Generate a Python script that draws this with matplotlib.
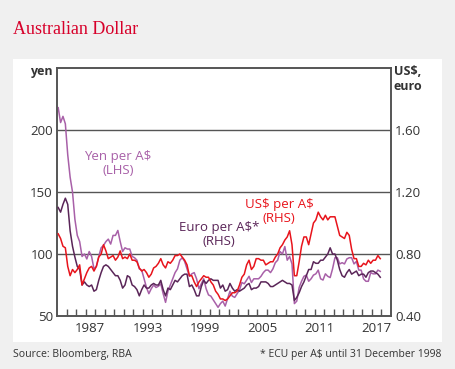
import numpy as np
import matplotlib
matplotlib.use("Agg")
import matplotlib.pyplot as plt
from matplotlib.patches import Rectangle

# ---- data (quarterly, starting Q1 1984) ----
start_year = 1984.0
usd_per_aud = [
    0.93, 0.90, 0.85, 0.84,  # 1984
    0.72, 0.66, 0.70, 0.68,  # 1985
    0.70, 0.73, 0.60, 0.64,  # 1986
    0.68, 0.71, 0.72, 0.69,  # 1987
    0.72, 0.78, 0.80, 0.86,  # 1988
    0.82, 0.77, 0.78, 0.79,  # 1989
    0.76, 0.78, 0.82, 0.77,  # 1990
    0.78, 0.77, 0.80, 0.76,  # 1991
    0.76, 0.75, 0.71, 0.69,  # 1992
    0.70, 0.68, 0.65, 0.67,  # 1993
    0.71, 0.72, 0.74, 0.77,  # 1994
    0.73, 0.71, 0.75, 0.74,  # 1995
    0.76, 0.79, 0.79, 0.80,  # 1996
    0.78, 0.76, 0.73, 0.66,  # 1997
    0.66, 0.62, 0.59, 0.62,  # 1998
    0.64, 0.66, 0.65, 0.65,  # 1999
    0.62, 0.60, 0.56, 0.54,  # 2000
    0.51, 0.51, 0.50, 0.51,  # 2001
    0.53, 0.55, 0.55, 0.56,  # 2002
    0.60, 0.65, 0.67, 0.73,  # 2003
    0.76, 0.70, 0.72, 0.77,  # 2004
    0.77, 0.76, 0.76, 0.73,  # 2005
    0.74, 0.75, 0.75, 0.78,  # 2006
    0.80, 0.84, 0.86, 0.89,  # 2007
    0.91, 0.95, 0.86, 0.66,  # 2008
    0.66, 0.75, 0.85, 0.91,  # 2009
    0.91, 0.86, 0.93, 1.00,  # 2010
    1.02, 1.07, 1.04, 1.02,  # 2011
    1.05, 1.02, 1.04, 1.04,  # 2012
    1.04, 0.98, 0.92, 0.91,  # 2013
    0.90, 0.94, 0.92, 0.83,  # 2014
    0.77, 0.77, 0.72, 0.72,  # 2015
    0.74, 0.73, 0.76, 0.74,  # 2016
    0.76, 0.76, 0.79, 0.77,  # 2017
]
euro_per_aud = [
    1.10, 1.07, 1.12, 1.16,  # 1984
    1.12, 0.95, 0.85, 0.78,  # 1985
    0.72, 0.70, 0.60, 0.62,  # 1986
    0.60, 0.59, 0.60, 0.56,  # 1987
    0.57, 0.63, 0.68, 0.72,  # 1988
    0.73, 0.72, 0.70, 0.68,  # 1989
    0.66, 0.66, 0.63, 0.58,  # 1990
    0.60, 0.66, 0.65, 0.60,  # 1991
    0.59, 0.57, 0.53, 0.57,  # 1992
    0.60, 0.58, 0.58, 0.60,  # 1993
    0.61, 0.60, 0.60, 0.63,  # 1994
    0.57, 0.53, 0.58, 0.57,  # 1995
    0.60, 0.63, 0.62, 0.64,  # 1996
    0.66, 0.67, 0.67, 0.59,  # 1997
    0.60, 0.57, 0.53, 0.53,  # 1998
    0.59, 0.63, 0.61, 0.63,  # 1999
    0.64, 0.63, 0.63, 0.63,  # 2000
    0.58, 0.60, 0.56, 0.57,  # 2001
    0.61, 0.58, 0.56, 0.57,  # 2002
    0.56, 0.57, 0.58, 0.60,  # 2003
    0.61, 0.57, 0.58, 0.58,  # 2004
    0.59, 0.62, 0.62, 0.62,  # 2005
    0.61, 0.59, 0.59, 0.60,  # 2006
    0.61, 0.62, 0.63, 0.62,  # 2007
    0.61, 0.61, 0.60, 0.50,  # 2008
    0.52, 0.55, 0.59, 0.62,  # 2009
    0.66, 0.70, 0.70, 0.75,  # 2010
    0.74, 0.74, 0.76, 0.76,  # 2011
    0.78, 0.80, 0.84, 0.80,  # 2012
    0.80, 0.76, 0.70, 0.66,  # 2013
    0.65, 0.68, 0.70, 0.67,  # 2014
    0.68, 0.69, 0.66, 0.67,  # 2015
    0.67, 0.65, 0.68, 0.69,  # 2016
    0.69, 0.68, 0.67, 0.65,  # 2017
]
yen_per_aud = [
    218, 206, 211, 205,  # 1984
    180, 162, 150, 128,  # 1985
    115, 110, 98, 100,   # 1986
    96, 102, 98, 88,     # 1987
    90, 98, 105, 107,    # 1988
    110, 112, 108, 115,  # 1989
    115, 119, 110, 102,  # 1990
    105, 104, 104, 98,   # 1991
    97, 95, 88, 87,      # 1992
    80, 73, 68, 72,      # 1993
    75, 73, 74, 76,      # 1994
    68, 61, 70, 75,      # 1995
    80, 85, 88, 95,      # 1996
    97, 94, 88, 82,      # 1997
    84, 85, 80, 72,      # 1998
    76, 80, 72, 67,      # 1999
    66, 63, 60, 57,      # 2000
    60, 62, 58, 64,      # 2001
    70, 66, 65, 68,      # 2002
    71, 77, 76, 79,      # 2003
    82, 77, 80, 80,      # 2004
    80, 82, 85, 87,      # 2005
    87, 85, 88, 93,      # 2006
    95, 102, 100, 106,   # 2007
    95, 98, 92, 60,      # 2008
    62, 73, 78, 82,      # 2009
    83, 78, 80, 83,      # 2010
    84, 87, 80, 79,      # 2011
    84, 82, 81, 88,      # 2012
    97, 97, 92, 93,      # 2013
    92, 96, 97, 97,      # 2014
    92, 94, 87, 87,      # 2015
    80, 78, 78, 85,      # 2016
    84, 84, 87, 86,      # 2017
]
left_ticks = [50, 100, 150, 200]
right_tick_labels = ["0.40", "0.80", "1.20", "1.60"]
year_labels = [1987, 1993, 1999, 2005, 2011, 2017]

t = start_year + np.arange(len(usd_per_aud)) * 0.25 + 0.125

# ---- styling ----
font = "Open Sans"
txt = "#333333"
frame = "#555555"
c_red = "#e8141c"
c_yen = "#a860a8"
c_eur = "#5a2558"

fig = plt.figure(figsize=(4.56, 3.69), dpi=100, facecolor="#f0f0f0")
W, H = 456, 369
fig.patches.append(Rectangle((13 / W, (H - 342) / H), (442 - 13) / W, (342 - 59) / H,
                             transform=fig.transFigure, facecolor="white",
                             edgecolor="none", zorder=-10))

ax = fig.add_axes([57 / W, (H - 316) / H, (391 - 57) / W, (316 - 68) / H])
ax.set_facecolor("white")
ax.set_xlim(1984, 2019)
ax.set_ylim(50, 250)
ax2 = ax.twinx()
ax2.set_ylim(0.4, 2.0)

for y in [100, 150, 200]:
    ax.axhline(y, color=frame, lw=1.0, zorder=1)

ax.plot(t, yen_per_aud, color=c_yen, lw=1.1, zorder=3)
ax2.plot(t, euro_per_aud, color=c_eur, lw=1.1, zorder=3)
ax2.plot(t, usd_per_aud, color=c_red, lw=1.1, zorder=4)

for a in (ax, ax2):
    for s in a.spines.values():
        s.set_color(frame)
        s.set_linewidth(1.2)

tfs = 9.5
ax.set_yticks(left_ticks)
ax.set_yticklabels([str(v) for v in left_ticks], fontsize=tfs, color=txt, family=font)
ax.tick_params(axis="y", length=0, pad=3)
ax2.set_yticks([0.4, 0.8, 1.2, 1.6])
ax2.set_yticklabels(right_tick_labels, fontsize=tfs, color=txt, family=font)
ax2.tick_params(axis="y", length=0, pad=3)

ax.set_xticks([y + 0.5 for y in year_labels])
ax.set_xticklabels([str(y) for y in year_labels], fontsize=tfs, color=txt, family=font)
ax.tick_params(axis="x", length=0, pad=4)
ax.set_xticks(np.arange(1985, 2019), minor=True)
ax.tick_params(axis="x", which="minor", direction="in", length=5, width=1, color=frame)

# axis unit labels
fig.text(53 / W, 1 - 72 / H, "yen", ha="right", va="center", fontsize=9,
         color=txt, family=font, fontweight="bold")
fig.text(394 / W, 1 - 79 / H, "US\\$,\neuro", ha="left", va="center", fontsize=9,
         color=txt, family=font, fontweight="bold", linespacing=1.2)

# series labels
lfs = 9.5
ax.text(1990.4, 173, "Yen per A\\$\n(LHS)", ha="center", va="center", fontsize=lfs,
        color=c_yen, family=font, linespacing=1.1)
ax.text(2007.3, 134, "US\\$ per A\\$\n(RHS)", ha="center", va="center", fontsize=lfs,
        color=c_red, family=font, linespacing=1.1)
ax.text(2001.0, 116, "Euro per A\\$*\n(RHS)", ha="center", va="center", fontsize=lfs,
        color=c_eur, family=font, linespacing=1.1)

# title and footer
fig.text(13 / W, 1 - 29 / H, "Australian Dollar", ha="left", va="center",
         fontsize=13, color="#d7002a", family="Liberation Serif")
fig.text(13 / W, 1 - 354 / H, "Source: Bloomberg, RBA", ha="left", va="center",
         fontsize=7.6, color=txt, family=font)
fig.text(441 / W, 1 - 354 / H, "* ECU per A\\$ until 31 December 1998", ha="right",
         va="center", fontsize=7.5, color=txt, family=font)

fig.savefig("out.png", dpi=100, facecolor=fig.get_facecolor())
